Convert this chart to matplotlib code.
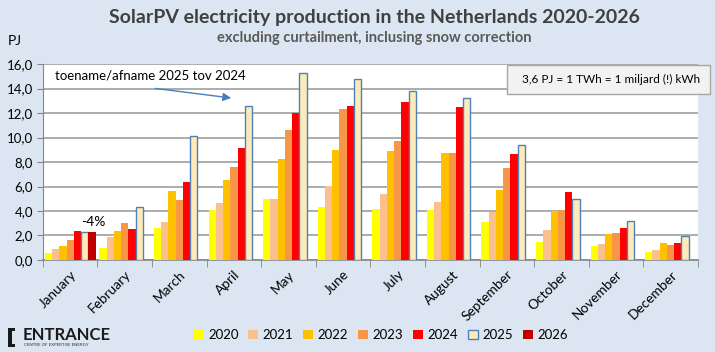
import numpy as np
import matplotlib
matplotlib.use("Agg")
from matplotlib import pyplot as plt
from matplotlib.patches import Rectangle

plt.rcParams['font.family'] = ['Lato', 'DejaVu Sans']

months = ["January", "February", "March", "April", "May", "June", "July",
          "August", "September", "October", "November", "December"]
years = ["2020", "2021", "2022", "2023", "2024", "2025", "2026"]

pj_2020 = [0.57, 0.98, 2.62, 4.06, 4.96, 4.30, 4.14, 4.06, 3.11, 1.47, 1.14, 0.65]
pj_2021 = [0.90, 1.88, 3.10, 4.66, 4.96, 6.05, 5.40, 4.74, 3.90, 2.45, 1.31, 0.82]
pj_2022 = [1.14, 2.37, 5.61, 6.54, 8.26, 8.99, 8.91, 8.72, 5.72, 3.98, 2.13, 1.39]
pj_2023 = [1.63, 3.02, 4.90, 7.60, 10.63, 12.34, 9.73, 8.72, 7.52, 4.09, 2.20, 1.20]
pj_2024 = [2.36, 2.50, 6.35, 9.16, 11.99, 12.56, 12.92, 12.48, 8.66, 5.56, 2.62, 1.39]
pj_2025 = [2.26, 4.30, 10.10, 12.56, 15.26, 14.77, 13.76, 13.19, 9.37, 4.96, 3.16, 1.93]
pj_2026 = [2.29]

series = [pj_2020, pj_2021, pj_2022, pj_2023, pj_2024, pj_2025, pj_2026]
fills = ['#FFFF00', '#FAC090', '#FFC000', '#F79646', '#FF0000', '#FFEBB9', '#C00000']
bg = '#DCE6F2'

W, H = 715, 352


def fx(px):
    return px / W


def fy(py):
    return 1 - py / H


fig = plt.figure(figsize=(7.15, 3.52), dpi=100, facecolor=bg)
ax = fig.add_axes([0.060, 0.2614, 0.916, 0.5566])
ax.set_facecolor('white')

w = 0.133
x = np.arange(len(months))
for i, (vals, col) in enumerate(zip(series, fills)):
    pos = x[:len(vals)] + (i - 3) * w
    if years[i] == "2025":
        ax.bar(pos, vals, w, color=col, edgecolor='#4F81BD', linewidth=1.0,
               label=years[i], zorder=3)
    else:
        ax.bar(pos, vals, w, color=col, label=years[i], zorder=3)

ax.set_xlim(-0.5, 11.5)
ax.set_ylim(0, 16)
ax.set_yticks(np.arange(0, 17, 2))
ax.set_yticklabels([f"{v:.1f}".replace('.', ',') for v in np.arange(0, 17, 2)],
                   fontsize=9.5, color='black')
ax.yaxis.grid(True, color='#A6A6A6', linewidth=1.3, zorder=0)
ax.set_axisbelow(True)

ax.set_xticks(x)
ax.set_xticklabels(months, rotation=45, ha='right', rotation_mode='anchor', fontsize=9.8)
ax.tick_params(axis='x', length=0, pad=6)
ax.set_xticks(np.arange(-0.5, 12, 1), minor=True)
ax.tick_params(axis='x', which='minor', length=5, color='#868686')
ax.tick_params(axis='y', length=4, color='#868686', pad=3)

for side in ['top', 'right']:
    ax.spines[side].set_visible(False)
ax.spines['left'].set_color('#868686')
ax.spines['bottom'].set_color('#868686')
ax.spines['bottom'].set_linewidth(1.2)

# annotations
ax.text(-0.28, 15.05, "toename/afname 2025 tov 2024", fontsize=9.5, va='center', zorder=5)
ax.annotate("", xy=(3.0, 13.2), xytext=(1.51, 14.04),
            arrowprops=dict(arrowstyle='-|>', color='#4A7EBB', lw=1.0,
                            mutation_scale=12), zorder=5)
ax.text(0.43, 3.1, "-4%", fontsize=10, ha='center', va='center', zorder=5)

fig.patches.append(Rectangle((fx(507), fy(94)), 203 / W, 29 / H,
                             transform=fig.transFigure, facecolor='#F2F2F2',
                             edgecolor='#A6A6A6', linewidth=1.0, zorder=5))
fig.text(fx(700), fy(79.5), "3,6 PJ = 1 TWh = 1 miljard (!) kWh",
         fontsize=8.5, ha='right', va='center', zorder=6)

fig.text(fx(374), fy(17),
         "SolarPV electricity production in the Netherlands 2020-2026",
         fontsize=14, fontweight='bold', color='#404040', ha='center', va='center')
fig.text(fx(374), fy(38), "excluding curtailment, inclusing snow correction",
         fontsize=10.5, fontweight='bold', color='#595959', ha='center', va='center')
fig.text(fx(8), fy(41), "PJ", fontsize=10, ha='left', va='center')

# legend
fig.legend(loc='center', bbox_to_anchor=(fx(381), fy(335)), ncol=7,
           frameon=False, fontsize=9.5, handlelength=0.75, handleheight=0.75,
           handletextpad=0.35, columnspacing=0.75)

# logo
for (x0, y0, ww, hh) in [(8, 328, 4, 19), (8, 328, 7, 3), (8, 344, 7, 3)]:
    fig.patches.append(Rectangle((fx(x0), fy(y0 + hh)), ww / W, hh / H,
                                 transform=fig.transFigure, facecolor='#1a1a1a',
                                 edgecolor='none'))
fig.text(fx(23), fy(335), "ENTRANCE", fontsize=12, fontweight='bold',
         ha='left', va='center', color='#1a1a1a')
fig.text(fx(24), fy(345), "CENTRE OF EXPERTISE ENERGY", fontsize=3.2,
         ha='left', va='center', color='#333333')

fig.savefig("out.png", dpi=100, facecolor=bg)
